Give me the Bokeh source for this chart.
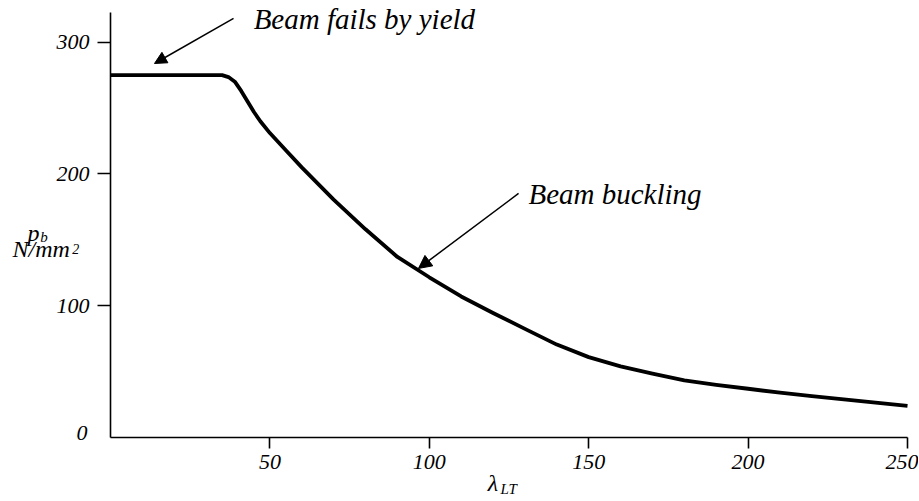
from bokeh.plotting import figure
from bokeh.models import Range1d, FixedTicker, Label, Arrow, NormalHead, LinearAxis
from bokeh.embed import file_html
from bokeh.resources import INLINE

# data
lam = [0, 30, 35, 37, 39, 41, 43, 45, 47, 50, 55, 60, 70, 80, 90, 100, 110, 120, 130,
       140, 150, 160, 170, 180, 190, 200, 210, 220, 230, 240, 250]
pb = [275, 275, 275, 273.5, 270, 263, 255, 247, 240, 231, 218, 205, 180.5, 158, 137,
      121.6, 107, 94.5, 82.4, 70.5, 61, 54, 48.5, 43.3, 40, 37, 34, 31.4, 29, 26.5, 24]
x_ticks = [50, 100, 150, 200, 250]
y_ticks = [100, 200, 300]
x_bounds = (0, 250)
y_bounds = (0, 322.5)

FONT = "Liberation Serif"

p = figure(width=918, height=500, x_range=Range1d(-34.5, 253.45), y_range=Range1d(-47.8, 331.6),
           output_backend="svg", toolbar_location=None, title=None,
           x_axis_location=None, y_axis_location=None)
p.min_border = 0
p.min_border_left = 0
p.min_border_right = 0
p.min_border_top = 0
p.min_border_bottom = 0
p.xgrid.visible = False
p.ygrid.visible = False
p.outline_line_color = None
p.background_fill_color = "white"
p.border_fill_color = "white"

xaxis = LinearAxis(fixed_location=0, bounds=x_bounds, ticker=FixedTicker(ticks=x_ticks))
yaxis = LinearAxis(fixed_location=0, bounds=y_bounds, ticker=FixedTicker(ticks=y_ticks))
for ax in (xaxis, yaxis):
    ax.axis_line_width = 1.6
    ax.axis_line_color = "black"
    ax.major_tick_line_width = 1.6
    ax.major_tick_line_color = "black"
    ax.minor_tick_line_color = None
    ax.major_tick_in = 0
    ax.major_label_text_font = FONT
    ax.major_label_text_font_style = "italic"
    ax.major_label_text_font_size = "22px"
    ax.major_label_text_color = "black"
xaxis.major_tick_out = 11
xaxis.major_label_standoff = 6
yaxis.major_tick_out = 13
yaxis.major_label_standoff = 8
p.add_layout(xaxis, "below")
p.add_layout(yaxis, "left")

p.line(lam, pb, line_width=3.8, line_color="black", line_join="round")

def lab(x, y, text, size, align="left", baseline="alphabetic"):
    p.add_layout(Label(x=x, y=y, text=text, text_font=FONT, text_font_style="italic",
                       text_font_size=size, text_align=align, text_baseline=baseline,
                       text_color="black"))

# annotations
lab(44.9, 317.7, "Beam fails by yield", "29px")
lab(131.1, 184.9, "Beam buckling", "29px")
p.add_layout(Arrow(end=NormalHead(size=12, fill_color="black", line_color="black"),
                   x_start=38.6, y_start=318.0, x_end=13.8, y_end=283.8,
                   line_width=1.5, line_color="black"))
p.add_layout(Arrow(end=NormalHead(size=13, fill_color="black", line_color="black"),
                   x_start=128.0, y_start=185.2, x_end=96.6, y_end=128.3,
                   line_width=1.5, line_color="black"))

# zero label on y axis
lab(-7.2, 3.4, "0", "22px", align="right", baseline="middle")

# y axis title p_b N/mm^2
lab(-26.0, 155.5, "p", "24px")
lab(-22.0, 152.0, "b", "15px")
lab(-30.7, 142.8, "N/mm", "24px")
lab(-12.0, 143.4, "2", "14px")

# x axis title lambda_LT
lab(118.3, -34.2, "λ", "24px")
lab(122.3, -38.7, "LT", "15px")

open("out.html", "w").write(file_html(p, INLINE))
